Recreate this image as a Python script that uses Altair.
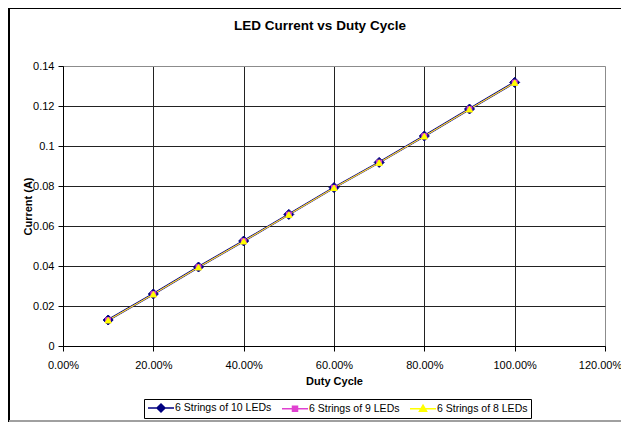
import altair as alt
import pandas as pd

duty = [0.1, 0.2, 0.3, 0.4, 0.5, 0.6, 0.7, 0.8, 0.9, 1.0]
s10 = [0.0130, 0.0260, 0.0395, 0.0525, 0.0658, 0.0792, 0.0918, 0.1050, 0.1185, 0.1318]
s9 = [0.0129, 0.0259, 0.0394, 0.0524, 0.0657, 0.0791, 0.0917, 0.1049, 0.1184, 0.1317]
s8 = [0.0129, 0.0259, 0.0394, 0.0524, 0.0657, 0.0791, 0.0917, 0.1049, 0.1184, 0.1317]
names = ["6 Strings of 10 LEDs", "6 Strings of 9 LEDs", "6 Strings of 8 LEDs"]
colors = ["#000080", "#E040D0", "#FFFF00"]
x_ticks = [0.0, 0.2, 0.4, 0.6, 0.8, 1.0, 1.2]
y_ticks = [0.0, 0.02, 0.04, 0.06, 0.08, 0.10, 0.12, 0.14]

rows = []
for name, vals in zip(names, [s10, s9, s8]):
    for d, v in zip(duty, vals):
        rows.append({"duty": d, "current": v, "series": name})
df = pd.DataFrame(rows)

FONT = "Liberation Sans"

x_enc = alt.X(
    "duty:Q",
    scale=alt.Scale(domain=[0, 1.2], nice=False, zero=False),
    axis=alt.Axis(
        values=x_ticks, format=".2%", title="Duty Cycle",
        labelFont=FONT, labelFontSize=11, labelColor="black",
        labelOffset=alt.condition("datum.value >= 1.19", alt.value(-5), alt.value(0)),
        titleFont=FONT, titleFontSize=11, titleFontWeight="bold", titleColor="black",
        titleY=35, titleBaseline="middle",
        domainColor="black", tickColor="black", tickSize=5, labelPadding=8,
        grid=True,
        gridColor=alt.condition("datum.value >= 1.19", alt.value("#8c8c8c"), alt.value("#222222")),
        gridOpacity=1, labelFlush=False,
    ),
)
y_enc = alt.Y(
    "current:Q",
    scale=alt.Scale(domain=[0, 0.14], nice=False),
    axis=alt.Axis(
        values=y_ticks, format="~g", title="Current (A)",
        labelFont=FONT, labelFontSize=11, labelColor="black",
        titleFont=FONT, titleFontSize=11, titleFontWeight="bold", titleColor="black",
        titleX=-35, titleY=140, titleAngle=270, titleAlign="center", titleBaseline="middle",
        domainColor="black", tickColor="black", tickSize=5, labelPadding=4,
        grid=True,
        gridColor=alt.condition("datum.value >= 0.139", alt.value("#8c8c8c"), alt.value("#222222")),
        gridOpacity=1, labelFlush=False,
    ),
)

layers = []
line_widths = [2.2, 1, 1]
for name, col, lw in zip(names, colors, line_widths):
    layers.append(
        alt.Chart(df).transform_filter(alt.datum.series == name)
        .mark_line(color=col, strokeWidth=lw)
        .encode(x=x_enc, y=y_enc)
    )

point_specs = [
    ("diamond", 100, "#000080", "#000080"),
    ("square", 24, "#E040D0", "#E040D0"),
    ("triangle-up", 40, "#FFFF00", "#FFFF00"),
]
for name, (shp, sz, fc, sc) in zip(names, point_specs):
    layers.append(
        alt.Chart(df).transform_filter(alt.datum.series == name)
        .mark_point(shape=shp, size=sz, filled=True, fill=fc, stroke=sc, strokeWidth=1, opacity=1)
        .encode(x=x_enc, y=y_enc)
    )

legend_paths = [
    "M-2.6,0L2.6,0M0,-0.8L0.8,0L0,0.8L-0.8,0Z",
    "M-2.6,0L2.6,0M-0.5,-0.5L0.5,-0.5L0.5,0.5L-0.5,0.5Z",
    "M-2.6,0L2.6,0M0,-0.7L0.7,0.5L-0.7,0.5Z",
]
leg = alt.Legend(
    orient="none", legendX=81, legendY=333, direction="horizontal", title=None,
    strokeColor="black", padding=3, symbolSize=100, symbolStrokeWidth=1.5,
    symbolOffset=8, labelOffset=8,
    labelFont=FONT, labelFontSize=10.5, labelColor="black", columnPadding=7,
    fillColor="white",
)
legend_layer = (
    alt.Chart(df).transform_filter("false")
    .mark_point(filled=True, opacity=1)
    .encode(
        x=x_enc, y=y_enc,
        fill=alt.Fill("series:N", scale=alt.Scale(domain=names, range=colors), legend=leg),
        stroke=alt.Stroke("series:N", scale=alt.Scale(domain=names, range=colors), legend=leg),
        shape=alt.Shape("series:N", scale=alt.Scale(domain=names, range=legend_paths), legend=leg),
    )
)
layers.append(legend_layer)

# chart-area frame (decoration)
frame_df = pd.DataFrame({"k": [0]})
frame = alt.Chart(frame_df).mark_rule(color="black", strokeWidth=2).encode(
    x=alt.value(-54), y=alt.value(-58), y2=alt.value(356)
)
frame_top = alt.Chart(frame_df).mark_rule(color="black", strokeWidth=2).encode(
    x=alt.value(-54), x2=alt.value(570), y=alt.value(-58)
)
frame_bot = alt.Chart(frame_df).mark_rule(color="#a0a0a0", strokeWidth=2).encode(
    x=alt.value(-54), x2=alt.value(570), y=alt.value(355)
)

chart = alt.layer(frame, frame_top, frame_bot, *layers).properties(
    width=542, height=280,
    autosize=alt.AutoSizeParams(type="none"),
    padding={"left": 55, "top": 58, "right": 16, "bottom": 76},
    title=alt.Title("LED Current vs Duty Cycle", font=FONT, fontSize=13.5, fontWeight="bold",
                    color="black", dx=-14, offset=-25),
).configure_view(stroke="#8c8c8c", strokeWidth=1).configure(background="white")

chart.save("out.html", embed_options={"renderer": "svg", "actions": False})
